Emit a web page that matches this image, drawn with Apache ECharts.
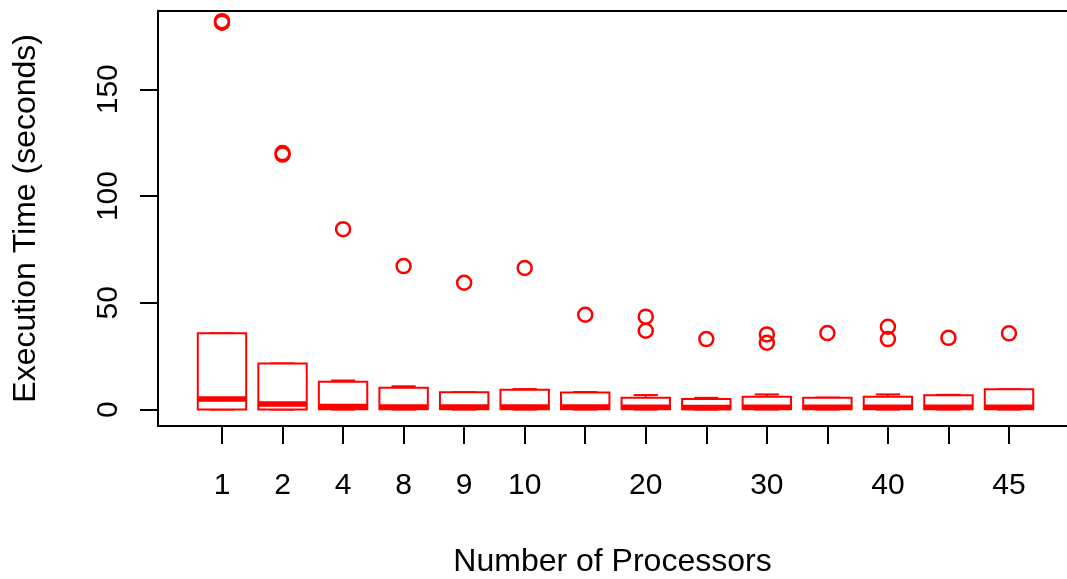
<!DOCTYPE html>
<html>
<head>
<meta charset="utf-8">
<script src="https://cdn.jsdelivr.net/npm/echarts@6/dist/echarts.min.js"></script>
<style>
html,body{margin:0;padding:0;background:#fff;}
#chart{width:1067px;height:579px;}
</style>
</head>
<body>
<div id="chart"></div>
<script>
// Category labels shown under each box (some labels are not drawn in the reference)
const tickLabels = ['1','2','4','8','9','10','','20','','30','','40','','45'];
// Box statistics per processor count
const whiskerLow  = [0, 0, 0, 0, 0, 0, 0, 0, 0, 0, 0, 0, 0, 0];
const quartile1   = [0, 0, 0.2, 0.2, 0.2, 0.2, 0.2, 0.2, 0.2, 0.2, 0.2, 0.2, 0.2, 0.2];
const medians     = [4.9, 2.6, 1.4, 1.2, 1.2, 1.2, 1.2, 1.1, 1.0, 1.1, 1.1, 1.1, 1.1, 1.1];
const quartile3   = [35.7, 21.6, 13.0, 10.2, 8.1, 9.3, 8.0, 5.5, 4.9, 6.0, 5.5, 6.0, 6.7, 9.5];
const whiskerHigh = [35.7, 21.6, 13.6, 10.9, 8.1, 9.6, 8.2, 6.8, 5.5, 7.1, 5.6, 7.1, 6.9, 9.5];
// Outliers: box index (1-based) and value
const outlierBox   = [1, 1, 2, 2, 3, 4, 5, 6, 7, 8, 8, 9, 10, 10, 11, 12, 12, 13, 14];
const outlierValue = [181.9, 181.2, 120.1, 119.4, 84.5, 67.2, 59.4, 66.3, 44.4, 43.5, 36.9, 33.0, 35.2, 31.3, 35.8, 38.8, 33.0, 33.6, 35.7];
const yTicks = [0, 50, 100, 150];
const xTitle = 'Number of Processors';
const yTitle = 'Execution Time (seconds)';

const boxData = tickLabels.map((_, i) => [i + 1, whiskerLow[i], quartile1[i], medians[i], quartile3[i], whiskerHigh[i]]);
const outlierData = outlierBox.map((b, i) => [b, outlierValue[i]]);
const positions = tickLabels.map((_, i) => i + 1);
const labelPositions = positions.filter((p, i) => tickLabels[i] !== '');

const RED = '#ff0000';
const FONT = 'Liberation Sans, Arial, Helvetica, sans-serif';

function renderBox(params, api) {
  const x = api.value(0);
  const lo = api.coord([x, api.value(1)]);
  const q1 = api.coord([x, api.value(2)]);
  const md = api.coord([x, api.value(3)]);
  const q3 = api.coord([x, api.value(4)]);
  const hi = api.coord([x, api.value(5)]);
  const cx = q1[0];
  const half = api.size([0.8, 0])[0] / 2;
  const st = half / 2;
  const thin = {stroke: RED, lineWidth: 2, fill: null};
  const dashed = {stroke: RED, lineWidth: 2, lineDash: [6, 6], fill: null};
  return {
    type: 'group',
    children: [
      {type: 'line', shape: {x1: cx, y1: q3[1], x2: cx, y2: hi[1]}, style: dashed},
      {type: 'line', shape: {x1: cx, y1: q1[1], x2: cx, y2: lo[1]}, style: dashed},
      {type: 'line', shape: {x1: cx - st, y1: hi[1], x2: cx + st, y2: hi[1]}, style: thin},
      {type: 'line', shape: {x1: cx - st, y1: lo[1], x2: cx + st, y2: lo[1]}, style: thin},
      {type: 'rect', shape: {x: cx - half, y: q3[1], width: 2 * half, height: q1[1] - q3[1]}, style: {stroke: RED, lineWidth: 2, fill: '#ffffff'}},
      {type: 'line', shape: {x1: cx - half, y1: md[1], x2: cx + half, y2: md[1]}, style: {stroke: RED, lineWidth: 5.5, lineCap: 'butt'}}
    ]
  };
}

const frameLine = {show: true, onZero: false, lineStyle: {color: '#000', width: 2}};

const chart = echarts.init(document.getElementById('chart'), null, {renderer: 'canvas'});
chart.setOption({
  animation: false,
  backgroundColor: '#ffffff',
  grid: {left: 158, top: 10.7, width: 909, height: 415.3, show: false, containLabel: false, outerBoundsMode: 'none'},
  xAxis: [{
    type: 'value', min: -0.057, max: 14.958, position: 'bottom',
    splitLine: {show: false},
    axisLine: frameLine,
    axisTick: {show: true, length: 18, lineStyle: {color: '#000', width: 2}, customValues: positions},
    axisLabel: {
      show: true, margin: 45, fontSize: 30, color: '#000', fontFamily: FONT,
      customValues: labelPositions,
      formatter: v => tickLabels[Math.round(v) - 1]
    },
    name: xTitle, nameLocation: 'middle', nameGap: 120,
    nameTextStyle: {fontSize: 32, color: '#000', fontFamily: FONT}
  }, {
    type: 'value', min: -0.057, max: 14.958, position: 'top',
    splitLine: {show: false},
    axisLine: frameLine,
    axisTick: {show: false},
    axisLabel: {show: false}
  }],
  yAxis: {
    type: 'value', min: -7.7, max: 186.8,
    splitLine: {show: false},
    axisLine: frameLine,
    axisTick: {show: true, length: 18, lineStyle: {color: '#000', width: 2}, customValues: yTicks},
    axisLabel: {
      show: true, rotate: 90, margin: 34, fontSize: 30, color: '#000', fontFamily: FONT,
      customValues: yTicks
    },
    name: yTitle, nameLocation: 'middle', nameGap: 116, nameRotate: 90,
    nameTextStyle: {fontSize: 32, color: '#000', fontFamily: FONT}
  },
  series: [
    {
      type: 'custom',
      renderItem: renderBox,
      data: boxData,
      encode: {x: 0, y: [1, 2, 3, 4, 5]},
      clip: false
    },
    {
      type: 'scatter',
      data: outlierData,
      symbol: 'circle',
      symbolSize: 14,
      itemStyle: {color: 'transparent', borderColor: RED, borderWidth: 2.5, opacity: 1}
    }
  ]
});
</script>
</body>
</html>
